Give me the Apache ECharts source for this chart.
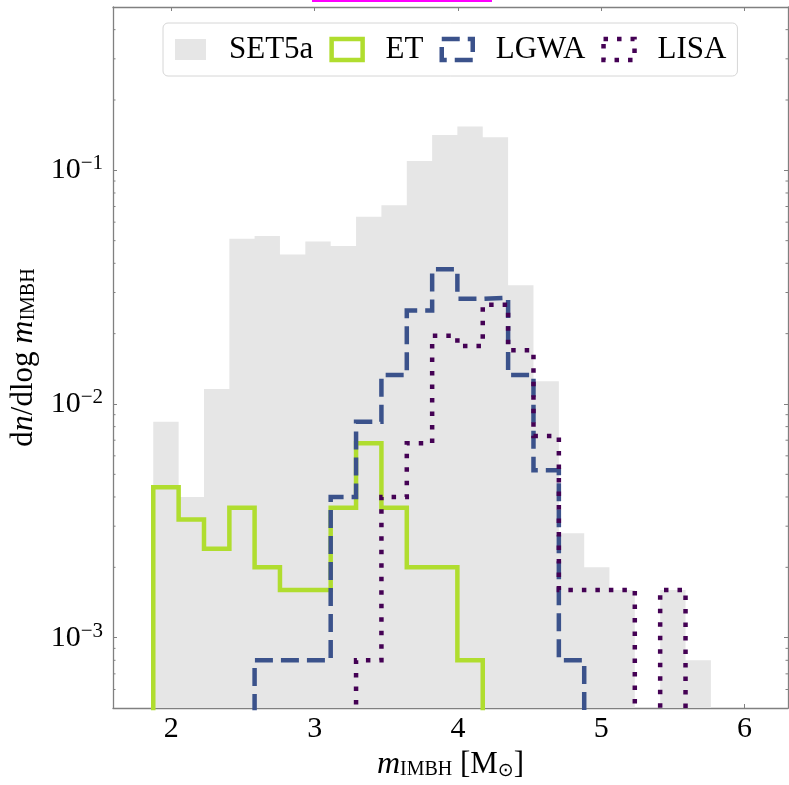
<!DOCTYPE html>
<html>
<head>
<meta charset="utf-8">
<script src="https://cdn.jsdelivr.net/npm/echarts@6/dist/echarts.min.js"></script>
<style>
html,body{margin:0;padding:0;background:#fff;}
#c{width:789px;height:785px;}
</style>
</head>
<body>
<div id="c"></div>
<script>
// ---- data ----
const binEdges = [1.874, 2.051, 2.228, 2.405, 2.581, 2.758, 2.935, 3.112, 3.289, 3.466, 3.643, 3.820,
                  3.996, 4.173, 4.350, 4.527, 4.704, 4.881, 5.057, 5.234, 5.411, 5.588, 5.765];
const set5a = [0.0084, 0.0040, 0.0116, 0.0510, 0.0523, 0.0436, 0.0496, 0.0474, 0.0633, 0.0708, 0.1096,
               0.1416, 0.1540, 0.1384, 0.0322, 0.0125, 0.0028, 0.0020, 0.0016, 0, 0.0016, 0.0008];
const et    = [0.0044, 0.0032, 0.0024, 0.0036, 0.0020, 0.0016, 0.0016, 0.0036, 0.0068, 0.0036, 0.0020,
               0.0020, 0.0008, 0, 0, 0, 0, 0, 0, 0, 0, 0];
const lgwa  = [0, 0, 0, 0, 0.0008, 0.0008, 0.0008, 0.0040, 0.0084, 0.0133, 0.0251,
               0.0377, 0.0282, 0.0285, 0.0133, 0.0052, 0.0008, 0, 0, 0, 0, 0];
const lisa  = [0, 0, 0, 0, 0, 0, 0, 0, 0.0008, 0.0040, 0.0068,
               0.0196, 0.0177, 0.0266, 0.0170, 0.0073, 0.0016, 0.0016, 0.0016, 0, 0.0016, 0];
const seriesNames = ['SET5a', 'ET', 'LGWA', 'LISA'];
const xTickValues = [2, 3, 4, 5, 6];
const yTickExponents = [-3, -2, -1];
const yMinorTicks = [6e-4, 7e-4, 8e-4, 9e-4,
                     2e-3, 3e-3, 4e-3, 5e-3, 6e-3, 7e-3, 8e-3, 9e-3,
                     2e-2, 3e-2, 4e-2, 5e-2, 6e-2, 7e-2, 8e-2, 9e-2,
                     2e-1, 3e-1, 4e-1];
const xRange = [1.593, 6.303];
const yRange = [5e-4, 0.5];

// ---- build ----
const FLOOR = 1e-6; // empty bins drop below the axis floor (clipped)
function stepPoints(values) {
  const pts = [[binEdges[0], FLOOR]];
  values.forEach((v, i) => pts.push([binEdges[i], v > 0 ? v : FLOOR]));
  pts.push([binEdges[binEdges.length - 1], FLOOR]);
  return pts;
}
const SERIF = 'Liberation Serif';
const SPINE = '#808080';
const C_SET = '#e6e6e6', C_ET = '#b0dd2f', C_LGWA = '#3b528b', C_LISA = '#440154';

const chart = echarts.init(document.getElementById('c'), null, {renderer: 'canvas'});

const subRich = {
  r: {fontFamily: SERIF, fontSize: 31, color: '#000'},
  i: {fontFamily: SERIF, fontSize: 32, fontStyle: 'italic', color: '#000'},
  s: {fontFamily: SERIF, fontSize: 20, color: '#000', padding: [10, 0, 0, 0]},
  o: {fontFamily: 'DejaVu Sans', fontSize: 19, color: '#000', padding: [12, 0, 0, 0]}
};

const axisCommon = {
  axisLine: {show: true, lineStyle: {color: SPINE, width: 1.3}},
  axisTick: {show: true, inside: true, length: 4, lineStyle: {color: SPINE, width: 1}},
  splitLine: {show: false}
};

const option = {
  animation: false,
  backgroundColor: '#fff',
  grid: {left: 113, right: 1, top: 7, bottom: 77, containLabel: false, outerBoundsMode: 'none'},
  legend: {
    left: 163, top: 23,
    padding: [11, 11, 11, 12],
    itemWidth: 31, itemHeight: 21, itemGap: 16,
    selectedMode: false,
    backgroundColor: 'rgba(255,255,255,0.8)',
    borderColor: '#d6d6d6', borderWidth: 1, borderRadius: 5,
    textStyle: {fontFamily: SERIF, fontSize: 31, color: '#000', padding: [0, 0, 0, 18]},
    data: [
      {name: seriesNames[0], icon: 'rect', itemStyle: {color: C_SET, borderWidth: 0}},
      {name: seriesNames[1], icon: 'rect', itemStyle: {color: 'rgba(0,0,0,0)', borderColor: C_ET, borderWidth: 4.5}},
      {name: seriesNames[2], icon: 'rect', itemStyle: {color: 'rgba(0,0,0,0)', borderColor: C_LGWA, borderWidth: 4.5, borderType: [18, 8]}},
      {name: seriesNames[3], icon: 'rect', itemStyle: {color: 'rgba(0,0,0,0)', borderColor: C_LISA, borderWidth: 4.5, borderType: [4.5, 9]}}
    ]
  },
  xAxis: [
    Object.assign({
      type: 'value', min: xRange[0], max: xRange[1], position: 'bottom',
      name: '{i|m}{s|IMBH}{r| [M}{o|⊙}{r|]}',
      nameLocation: 'middle', nameGap: 38,
      nameTextStyle: {rich: subRich},
      axisLabel: {
        show: true, margin: 6, fontFamily: SERIF, fontSize: 30, color: '#000',
        formatter: v => {
          const r = Math.round(v);
          return (Math.abs(v - r) < 1e-6 && xTickValues.includes(r)) ? String(r) : '';
        }
      }
    }, axisCommon),
    Object.assign({
      type: 'value', min: xRange[0], max: xRange[1], position: 'top',
      axisLabel: {show: false}
    }, axisCommon)
  ],
  yAxis: [
    Object.assign({
      type: 'log', logBase: 10, min: yRange[0], max: yRange[1], position: 'left',
      name: '{r|d}{i|n}{r|/dlog }{i|m}{s|IMBH}',
      nameLocation: 'middle', nameRotate: 90, nameGap: 70,
      nameTextStyle: {rich: subRich},
      axisLabel: {
        show: true, margin: 10,
        formatter: v => {
          const e = Math.log10(v), r = Math.round(e);
          if (Math.abs(e - r) > 1e-6 || !yTickExponents.includes(r)) return '';
          return '{b|10}{s|\u2212' + (-r) + '}';
        },
        rich: {
          b: {fontFamily: SERIF, fontSize: 30, color: '#000'},
          s: {fontFamily: SERIF, fontSize: 21, color: '#000', padding: [0, 0, 13, 0]}
        }
      }
    }, axisCommon),
    Object.assign({
      type: 'log', logBase: 10, min: yRange[0], max: yRange[1], position: 'right',
      axisLabel: {show: false}
    }, axisCommon)
  ],
  series: [
    {
      name: seriesNames[0], type: 'line', step: 'end', data: stepPoints(set5a),
      color: C_SET, showSymbol: false, symbol: 'none', clip: true,
      lineStyle: {width: 0, opacity: 0},
      areaStyle: {color: C_SET, opacity: 1, origin: 'start'},
      z: 1
    },
    {
      name: seriesNames[1], type: 'line', step: 'end', data: stepPoints(et),
      color: C_ET, symbol: 'none', clip: true,
      lineStyle: {color: C_ET, width: 4.5, join: 'miter'}, z: 2
    },
    {
      name: seriesNames[2], type: 'line', step: 'end', data: stepPoints(lgwa),
      color: C_LGWA, symbol: 'none', clip: true,
      lineStyle: {color: C_LGWA, width: 4.5, type: [18, 8], join: 'miter'}, z: 3
    },
    {
      name: seriesNames[3], type: 'line', step: 'end', data: stepPoints(lisa),
      color: C_LISA, symbol: 'none', clip: true,
      lineStyle: {color: C_LISA, width: 4.5, type: [4.5, 9], join: 'miter'}, z: 4
    },
    {
      type: 'custom', silent: true, z: 10,
      data: yMinorTicks.map(v => [xRange[0], v]),
      encode: {x: 0, y: 1},
      renderItem: (params, api) => {
        const y = api.coord([api.value(0), api.value(1)])[1];
        const cs = params.coordSys;
        const st = {stroke: SPINE, lineWidth: 1};
        return {type: 'group', children: [
          {type: 'line', shape: {x1: cs.x, y1: y, x2: cs.x + 2.5, y2: y}, style: st},
          {type: 'line', shape: {x1: cs.x + cs.width, y1: y, x2: cs.x + cs.width - 2.5, y2: y}, style: st}
        ]};
      }
    }
  ],
  graphic: [
    {type: 'rect', left: 312, top: 0, shape: {width: 180, height: 2}, style: {fill: '#ff00ff'}, silent: true}
  ]
};
chart.setOption(option);
</script>
</body>
</html>
